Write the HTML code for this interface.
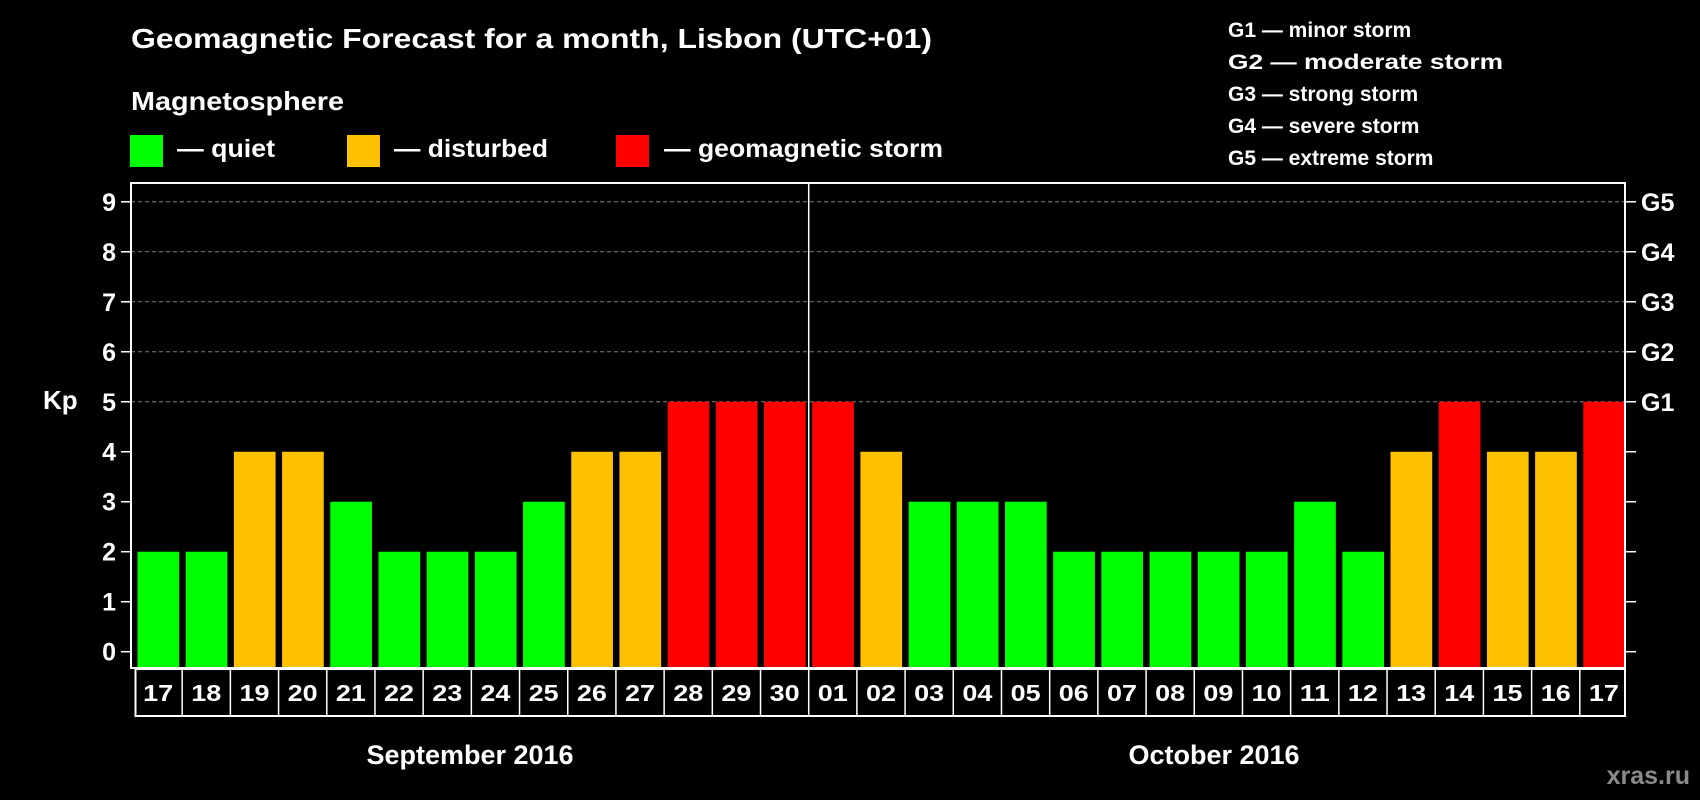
<!DOCTYPE html>
<html><head><meta charset="utf-8"><style>
html,body{margin:0;padding:0;background:#000;}
svg{display:block;font-family:"Liberation Sans",Arial,sans-serif;font-weight:bold;}
</style></head><body>
<svg id="chart" width="1700" height="800" viewBox="0 0 1700 800" xmlns="http://www.w3.org/2000/svg">
<rect x="0" y="0" width="1700" height="800" fill="#000"/>
<text x="131" y="48" fill="#fff" font-size="28" textLength="801" lengthAdjust="spacingAndGlyphs">Geomagnetic Forecast for a month, Lisbon (UTC+01)</text>
<text x="131" y="110" fill="#fff" font-size="26" textLength="213" lengthAdjust="spacingAndGlyphs">Magnetosphere</text>
<g>
<rect x="130" y="135" width="33" height="32" fill="#00ff00"/>
<text x="177" y="157" fill="#fff" font-size="25" textLength="98" lengthAdjust="spacingAndGlyphs">— quiet</text></g>
<g>
<rect x="347" y="135" width="33" height="32" fill="#ffc000"/>
<text x="394" y="157" fill="#fff" font-size="25" textLength="154" lengthAdjust="spacingAndGlyphs">— disturbed</text></g>
<g>
<rect x="616" y="135" width="33" height="32" fill="#ff0000"/>
<text x="664" y="157" fill="#fff" font-size="25" textLength="279" lengthAdjust="spacingAndGlyphs">— geomagnetic storm</text></g>
<g font-size="21" fill="#fff">
<text x="1228" y="37">G1 — minor storm</text>
<text x="1228" y="69" textLength="275" lengthAdjust="spacingAndGlyphs">G2 — moderate storm</text>
<text x="1228" y="101">G3 — strong storm</text>
<text x="1228" y="133">G4 — severe storm</text>
<text x="1228" y="165">G5 — extreme storm</text>
</g>
<text x="43" y="409" fill="#fff" font-size="26">Kp</text>
<text x="470" y="764" fill="#fff" font-size="27" text-anchor="middle">September 2016</text>
<text x="1214" y="764" fill="#fff" font-size="27" text-anchor="middle">October 2016</text>
<text x="1690" y="784" fill="#8a8a8a" font-size="25" text-anchor="end">xras.ru</text>
<g id="plot"></g>
</svg>
<script>
const days = ["17","18","19","20","21","22","23","24","25","26","27","28","29","30","01","02","03","04","05","06","07","08","09","10","11","12","13","14","15","16","17"];
const kpValues = [2,2,4,4,3,2,2,2,3,4,4,5,5,5,5,4,3,3,3,2,2,2,2,2,3,2,4,5,4,4,5];
const yTicks = [0,1,2,3,4,5,6,7,8,9];
const gLabels = ["G1","G2","G3","G4","G5"];
const gLevels = [5,6,7,8,9];
const monthSplitIndex = 14;

const NS = "http://www.w3.org/2000/svg";
const L = 131, R = 1625, T = 183, B = 668;
const Y0 = 651.7, STEP = 49.99;
const PITCH = (R - L) / days.length;
function y(v){ return Y0 - v * STEP; }
function xCell(i){ return L + i * PITCH; }
function color(v){ return v >= 5 ? "#ff0000" : (v >= 4 ? "#ffc000" : "#00ff00"); }
const g = document.getElementById("plot");
function mk(tag, attrs){ const e = document.createElementNS(NS, tag); for (const k in attrs) e.setAttribute(k, attrs[k]); g.appendChild(e); return e; }

// grid
gLevels.forEach(function(v){
  const ln = mk("line", {x1:L, x2:R, y1:y(v), y2:y(v), stroke:"#808080", "stroke-width":1, "stroke-dasharray":"4,3"});
  
  
});
// bars
kpValues.forEach(function(v, i){
  const r = mk("rect", {x:xCell(i)+6.5, y:y(v), width:PITCH-6.5, height:B - y(v), fill:color(v)});
  
  
});
// plot frame
const fr = mk("rect", {x:L, y:T, width:R-L, height:B-T, fill:"none", stroke:"#fff", "stroke-width":2});


// month divider
const dv = mk("line", {x1:xCell(monthSplitIndex)+3, x2:xCell(monthSplitIndex)+3, y1:T, y2:B, stroke:"#fff", "stroke-width":1.5});


// y ticks
yTicks.forEach(function(v){
  const t1 = mk("line", {x1:L-10, x2:L, y1:y(v), y2:y(v), stroke:"#fff", "stroke-width":1.5});
  
  
  const t2 = mk("line", {x1:R, x2:R+11, y1:y(v), y2:y(v), stroke:"#fff", "stroke-width":1.5});
  
  
  const tx = mk("text", {x:116, y:y(v)+9, fill:"#fff", "font-size":25, "text-anchor":"end"});
  tx.textContent = v;
  
  
});
gLabels.forEach(function(lbl, i){
  const tx = mk("text", {x:1641, y:y(gLevels[i])+9, fill:"#fff", "font-size":25});
  tx.textContent = lbl;
  
  
});
// day cells
const rowT = 669, rowB = 716;
const rowFrame = mk("rect", {x:L+4.5, y:rowT, width:R-L-4.5, height:rowB-rowT, fill:"none", stroke:"#fff", "stroke-width":2});


days.forEach(function(d, i){
  if (i > 0) {
    const sep = mk("line", {x1:xCell(i)+3, x2:xCell(i)+3, y1:rowT, y2:rowB, stroke:"#fff", "stroke-width":1.5});
    
    
  }
  const tx = mk("text", {x:xCell(i)+3+PITCH/2, y:701, fill:"#fff", "font-size":23, "text-anchor":"middle", textLength:30, lengthAdjust:"spacingAndGlyphs"});
  tx.textContent = d;
  
  
});
</script>
</body></html>
